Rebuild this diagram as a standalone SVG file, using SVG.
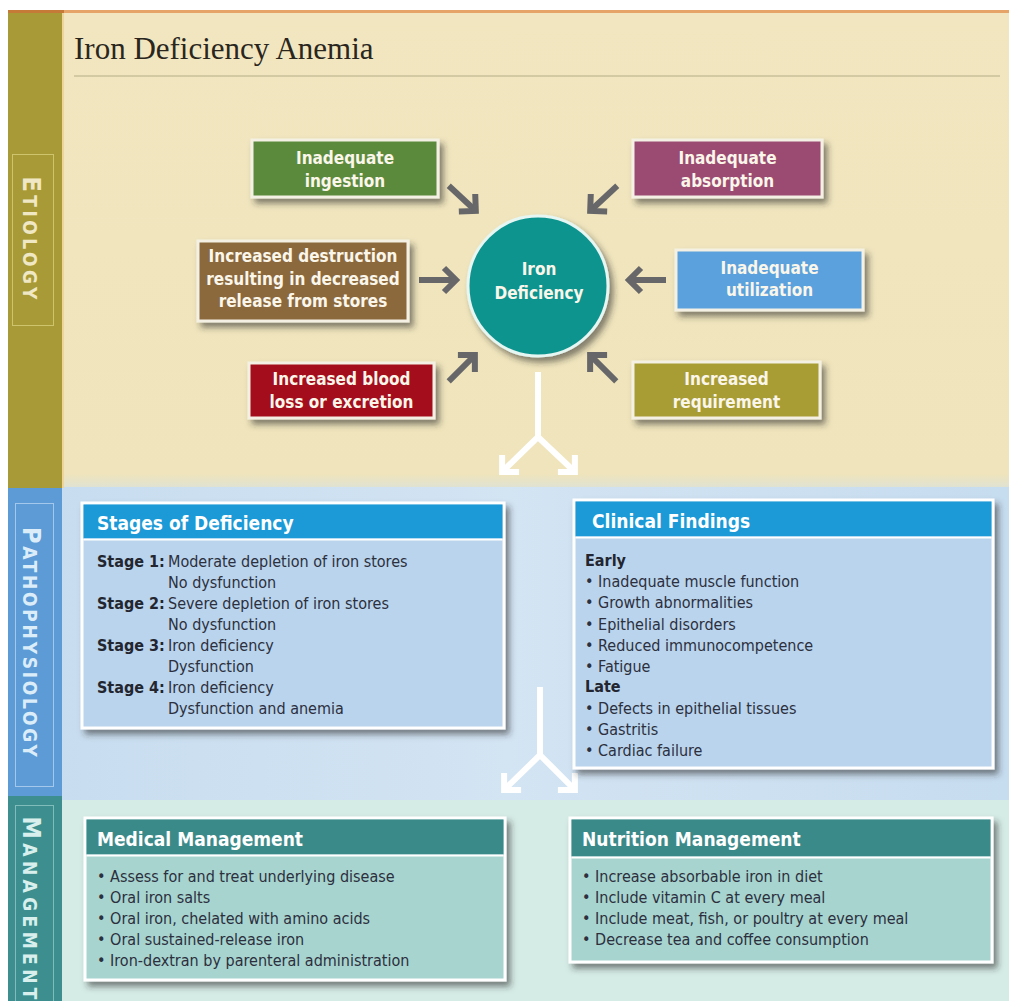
<svg xmlns="http://www.w3.org/2000/svg" xmlns:xlink="http://www.w3.org/1999/xlink" width="1009" height="1001" viewBox="0 0 1009 1001">
  <defs>
    <style>
      .cond { font-family: "Liberation Sans Narrow", "DejaVu Sans Condensed", "Liberation Sans", sans-serif; }
      .cause { font-weight: bold; font-size: 17px; fill: #fbf6ea; text-anchor: middle; }
      .head { font-weight: bold; font-size: 19px; fill: #ffffff; }
      .body { font-size: 16px; fill: #2c2f3d; }
      .bold { font-weight: bold; fill: #23252f; }
      .side { font-family: "DejaVu Sans Condensed", "Liberation Sans", sans-serif; font-weight: bold; text-anchor: middle; }
      .arrow { fill: none; stroke: #67676a; stroke-width: 6; stroke-linejoin: miter; }
      .split { fill: none; stroke: #ffffff; stroke-width: 6; stroke-linejoin: miter; }
    </style>
    <filter id="shadow" x="-10%" y="-10%" width="125%" height="135%">
      <feDropShadow dx="4" dy="5" stdDeviation="3" flood-color="#2a2a2a" flood-opacity="0.55"/>
    </filter>
    <linearGradient id="etioBg" x1="0" y1="0" x2="0" y2="1">
      <stop offset="0" stop-color="#f1e6bf"/>
      <stop offset="0.97" stop-color="#efe4bb"/>
      <stop offset="1" stop-color="#dfe2d4"/>
    </linearGradient>
    <linearGradient id="pathoBg" x1="0" y1="0" x2="1" y2="0">
      <stop offset="0" stop-color="#c6dcef"/>
      <stop offset="0.5" stop-color="#d3e4f3"/>
      <stop offset="1" stop-color="#c6dcef"/>
    </linearGradient>
    <!-- gray arrow, tip at the origin, pointing along +x -->
    <g id="garrow">
      <path class="arrow" d="M-40,0 L-4,0"/>
      <path class="arrow" d="M-15,-12 L-3,0 L-15,12"/>
    </g>
    <!-- white split-arrow head, tip at the origin, pointing along +x -->
    <path id="whead" class="split" d="M-15,-12 L-3,0 L-15,12"/>
  </defs>

  <!-- page background -->
  <rect x="0" y="0" width="1009" height="1001" fill="#ffffff"/>

  <!-- section bands -->
  <rect x="8" y="12" width="1001" height="476" fill="url(#etioBg)"/>
  <rect x="8" y="487" width="1001" height="313" fill="url(#pathoBg)"/>
  <rect x="8" y="800" width="1001" height="201" fill="#d5ebe5"/>
  <rect x="8" y="10" width="1001" height="3" fill="#e7a469"/>
  <rect x="8" y="10" width="56" height="3" fill="#c57b37"/>

  <!-- side bars -->
  <g id="side-etiology">
    <rect x="8" y="13" width="54" height="475" fill="#a89a36"/>
    <rect x="62" y="13" width="2" height="475" fill="#ecd49a"/>
    <rect x="12.5" y="154.5" width="41" height="171" fill="none" stroke="#cfc46e" stroke-width="1"/>
    <text class="side" transform="translate(23,238) rotate(90)" fill="#f0e8c4" textLength="123" lengthAdjust="spacing"><tspan font-size="25">E</tspan><tspan font-size="19">TIOLOGY</tspan></text>
  </g>
  <g id="side-pathophysiology">
    <rect x="8" y="488" width="54" height="308" fill="#5c9bd6"/>
    <rect x="15.5" y="503.5" width="38" height="283" fill="none" stroke="#a3c8ec" stroke-width="1"/>
    <text class="side" transform="translate(23,642) rotate(90)" fill="#dcedfa" textLength="230" lengthAdjust="spacing"><tspan font-size="25">P</tspan><tspan font-size="19">ATHOPHYSIOLOGY</tspan></text>
  </g>
  <g id="side-management">
    <rect x="8" y="796" width="54" height="205" fill="#3c8f8e"/>
    <rect x="15.5" y="805.5" width="38" height="200" fill="none" stroke="#80bcb9" stroke-width="1"/>
    <text class="side" transform="translate(23,908) rotate(90)" fill="#d8efed" textLength="183" lengthAdjust="spacing"><tspan font-size="25">M</tspan><tspan font-size="19">ANAGEMENT</tspan></text>
  </g>

  <!-- title -->
  <g id="title">
    <text x="74" y="59" font-family="'Liberation Serif', serif" font-size="31" fill="#2a261e">Iron Deficiency Anemia</text>
    <line x1="74" y1="76" x2="1000" y2="76" stroke="#c8bf99" stroke-width="1.5"/>
  </g>

  <!-- connectors -->
  <g id="connectors">
    <use xlink:href="#garrow" transform="translate(478,213) rotate(43)"/>
    <use xlink:href="#garrow" transform="translate(459,280)"/>
    <use xlink:href="#garrow" transform="translate(477,353) rotate(-45)"/>
    <use xlink:href="#garrow" transform="translate(588,213) rotate(137)"/>
    <use xlink:href="#garrow" transform="translate(626,280) rotate(180)"/>
    <use xlink:href="#garrow" transform="translate(588,353) rotate(-135)"/>
    <!-- split from iron deficiency to the pathophysiology boxes -->
    <path class="split" d="M538,372 L538,437 L502,472 M538,437 L575,472"/>
    <use xlink:href="#whead" transform="translate(500,474) rotate(135)"/>
    <use xlink:href="#whead" transform="translate(577,474) rotate(45)"/>
    <!-- split from pathophysiology to the management boxes -->
    <path class="split" d="M540,687 L540,755 L504,790 M540,755 L575,790"/>
    <use xlink:href="#whead" transform="translate(502,792) rotate(135)"/>
    <use xlink:href="#whead" transform="translate(577,792) rotate(45)"/>
  </g>

  <!-- etiology causes -->
  <g id="inadequate-ingestion" class="cond">
    <rect x="252" y="140" width="186" height="57" fill="#5b8a3c" stroke="#f4f1e4" stroke-width="3" filter="url(#shadow)"/>
    <text class="cause" x="345" y="164">Inadequate</text>
    <text class="cause" x="345" y="187">ingestion</text>
  </g>
  <g id="increased-destruction" class="cond">
    <rect x="198" y="241" width="210" height="80" fill="#8b693d" stroke="#f4f1e4" stroke-width="3" filter="url(#shadow)"/>
    <text class="cause" x="303" y="262">Increased destruction</text>
    <text class="cause" x="303" y="285">resulting in decreased</text>
    <text class="cause" x="303" y="307">release from stores</text>
  </g>
  <g id="increased-blood-loss" class="cond">
    <rect x="249" y="363" width="185" height="55" fill="#a4101b" stroke="#f4f1e4" stroke-width="3" filter="url(#shadow)"/>
    <text class="cause" x="341.5" y="385">Increased blood</text>
    <text class="cause" x="341.5" y="408">loss or excretion</text>
  </g>
  <g id="inadequate-absorption" class="cond">
    <rect x="633" y="140" width="189" height="57" fill="#9b4b72" stroke="#f4f1e4" stroke-width="3" filter="url(#shadow)"/>
    <text class="cause" x="727.5" y="164" fill="#fbe9f0">Inadequate</text>
    <text class="cause" x="727.5" y="187" fill="#fbe9f0">absorption</text>
  </g>
  <g id="inadequate-utilization" class="cond">
    <rect x="676" y="250" width="187" height="60" fill="#5aa1dd" stroke="#f4f1e4" stroke-width="3" filter="url(#shadow)"/>
    <text class="cause" x="769.5" y="274">Inadequate</text>
    <text class="cause" x="769.5" y="296">utilization</text>
  </g>
  <g id="increased-requirement" class="cond">
    <rect x="633" y="362" width="187" height="56" fill="#a89c35" stroke="#f4f1e4" stroke-width="3" filter="url(#shadow)"/>
    <text class="cause" x="726.5" y="385">Increased</text>
    <text class="cause" x="726.5" y="408">requirement</text>
  </g>

  <!-- central node -->
  <g id="iron-deficiency" class="cond">
    <circle cx="538" cy="286" r="70" fill="#11948f" stroke="#e6f6f2" stroke-width="3" filter="url(#shadow)"/>
    <text class="cause" x="539" y="275" font-size="19" fill="#ecfbf8">Iron</text>
    <text class="cause" x="539" y="299" font-size="19" fill="#ecfbf8">Deficiency</text>
  </g>

  <!-- pathophysiology -->
  <g id="stages-of-deficiency" class="cond">
    <rect x="82" y="503" width="422" height="225" fill="#b9d4ec" stroke="#ffffff" stroke-width="3" filter="url(#shadow)"/>
    <rect x="83.5" y="504.5" width="419" height="34" fill="#1b9ad7"/>
    <line x1="83.5" y1="539.5" x2="502.5" y2="539.5" stroke="#ffffff" stroke-width="2"/>
    <text class="head" x="97" y="530">Stages of Deficiency</text>
    <text class="body" y="567"><tspan class="bold" x="97">Stage 1:</tspan><tspan x="168">Moderate depletion of iron stores</tspan></text>
    <text class="body" x="168" y="588">No dysfunction</text>
    <text class="body" y="609"><tspan class="bold" x="97">Stage 2:</tspan><tspan x="168">Severe depletion of iron stores</tspan></text>
    <text class="body" x="168" y="630">No dysfunction</text>
    <text class="body" y="651"><tspan class="bold" x="97">Stage 3:</tspan><tspan x="168">Iron deficiency</tspan></text>
    <text class="body" x="168" y="672">Dysfunction</text>
    <text class="body" y="693"><tspan class="bold" x="97">Stage 4:</tspan><tspan x="168">Iron deficiency</tspan></text>
    <text class="body" x="168" y="714">Dysfunction and anemia</text>
  </g>
  <g id="clinical-findings" class="cond">
    <rect x="574" y="500" width="419" height="268" fill="#b9d4ec" stroke="#ffffff" stroke-width="3" filter="url(#shadow)"/>
    <rect x="575.5" y="501.5" width="416" height="35" fill="#1b9ad7"/>
    <line x1="575.5" y1="537.5" x2="991.5" y2="537.5" stroke="#ffffff" stroke-width="2"/>
    <text class="head" x="592" y="528">Clinical Findings</text>
    <text class="body bold" x="585" y="566">Early</text>
    <text class="body" x="585" y="587">• Inadequate muscle function</text>
    <text class="body" x="585" y="608">• Growth abnormalities</text>
    <text class="body" x="585" y="630">• Epithelial disorders</text>
    <text class="body" x="585" y="651">• Reduced immunocompetence</text>
    <text class="body" x="585" y="672">• Fatigue</text>
    <text class="body bold" x="585" y="692">Late</text>
    <text class="body" x="585" y="714">• Defects in epithelial tissues</text>
    <text class="body" x="585" y="735">• Gastritis</text>
    <text class="body" x="585" y="756">• Cardiac failure</text>
  </g>

  <!-- management -->
  <g id="medical-management" class="cond">
    <rect x="85" y="818" width="420" height="162" fill="#a7d4cf" stroke="#ffffff" stroke-width="3" filter="url(#shadow)"/>
    <rect x="86.5" y="819.5" width="417" height="35" fill="#3b8a8a"/>
    <line x1="86.5" y1="855.5" x2="503.5" y2="855.5" stroke="#ffffff" stroke-width="2"/>
    <text class="head" x="97" y="846">Medical Management</text>
    <text class="body" x="97" y="882">• Assess for and treat underlying disease</text>
    <text class="body" x="97" y="903">• Oral iron salts</text>
    <text class="body" x="97" y="924">• Oral iron, chelated with amino acids</text>
    <text class="body" x="97" y="945">• Oral sustained-release iron</text>
    <text class="body" x="97" y="966">• Iron-dextran by parenteral administration</text>
  </g>
  <g id="nutrition-management" class="cond">
    <rect x="570" y="818" width="422" height="144" fill="#a7d4cf" stroke="#ffffff" stroke-width="3" filter="url(#shadow)"/>
    <rect x="571.5" y="819.5" width="419" height="37" fill="#3b8a8a"/>
    <line x1="571.5" y1="857.5" x2="990.5" y2="857.5" stroke="#ffffff" stroke-width="2"/>
    <text class="head" x="582" y="846">Nutrition Management</text>
    <text class="body" x="582" y="882">• Increase absorbable iron in diet</text>
    <text class="body" x="582" y="903">• Include vitamin C at every meal</text>
    <text class="body" x="582" y="924">• Include meat, fish, or poultry at every meal</text>
    <text class="body" x="582" y="945">• Decrease tea and coffee consumption</text>
  </g>
</svg>
